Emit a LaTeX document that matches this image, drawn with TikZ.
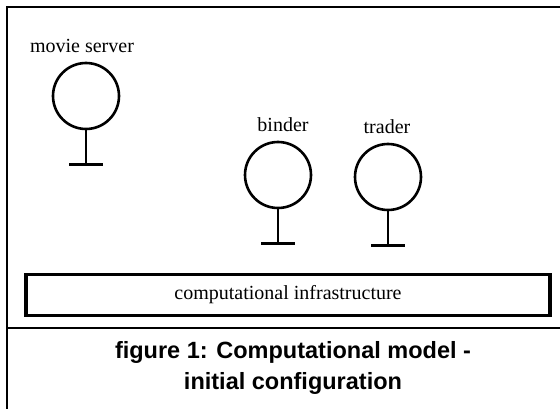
\documentclass[tikz,border=0pt]{standalone}
\usepackage{fontspec}
\setmainfont{Liberation Serif}
\newfontfamily\capfont{Liberation Sans}
\usetikzlibrary{positioning}
\tikzset{
  frame/.style={line width=1.2pt},
  obj/.style={circle,draw,line width=2.6pt,inner sep=0pt,minimum size=66pt},
  stem/.style={line width=2.6pt},
  lbl/.style={anchor=base,font=\fontsize{20}{24}\selectfont},
  infra/.style={draw,line width=3.5pt,minimum width=524pt,minimum height=41pt,inner sep=0pt,font=\fontsize{20}{24}\selectfont}
}
\begin{document}
\begin{tikzpicture}[x=1pt,y=-1pt]
	\useasboundingbox (0,0) rectangle (560,409);
	\draw[frame](560,7)--(7,7)--(7,409);
	\draw[frame](7,328)--(560,328);
	\foreach \n/\x/\y/\lx/\t in {srv/86/96/82/movie server,bnd/278/175/283/binder,trd/388/177/387/trader}{
		\node[obj] (\n) at (\x,\y) {};
		\draw[stem] (\n.south) -- ++(0,34) coordinate (\n-foot);
		\draw[stem] ([xshift=-17pt]\n-foot) -- ([xshift=17pt]\n-foot);
		\node[lbl] (\n-lbl) at (\lx,\y-43) {\t};
	}
	\node[infra] (infra) at (288,295) {computational infrastructure};
	\node[align=center,font=\capfont\bfseries\fontsize{23.5}{31}\selectfont] (cap) at (293,368) {figure 1: Computational model -\\initial configuration};
\end{tikzpicture}
\end{document}
